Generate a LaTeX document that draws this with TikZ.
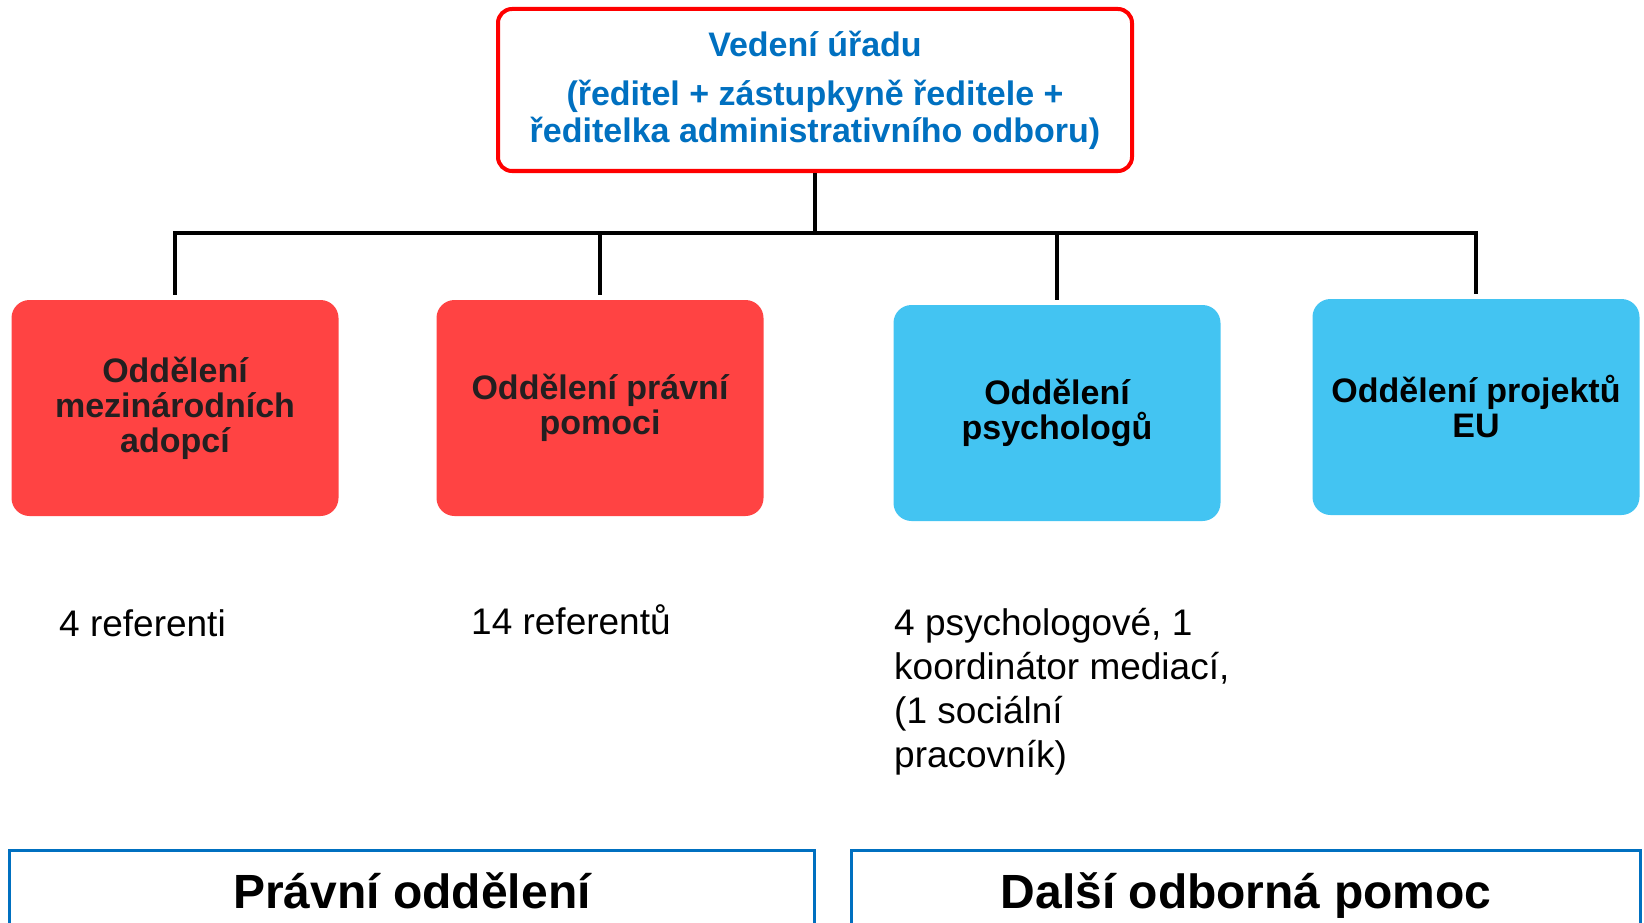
\documentclass[tikz,border=0pt]{standalone}
\usepackage{fontspec}
\setmainfont{Liberation Sans}
\usetikzlibrary{positioning}

\definecolor{leadred}{HTML}{FF0000}
\definecolor{leadblue}{HTML}{0070C0}
\definecolor{deptred}{HTML}{FF4343}
\definecolor{deptblue}{HTML}{43C4F2}
\definecolor{deptink}{HTML}{231F20}

\begin{document}
\begin{tikzpicture}[
    x=1pt, y=-1pt, %one unit per pixel, y downwards
    inner sep=0pt,
    lead/.style={draw=leadred, line width=4pt, rounded corners=14pt,
        fill=white, minimum width=634pt, minimum height=162pt,
        align=center, text=leadblue,
        font=\fontsize{34}{37}\selectfont\bfseries},
    rdept/.style={fill=deptred, rounded corners=18pt,
        minimum width=327pt, minimum height=216pt,
        align=center, text=deptink,
        font=\fontsize{34}{35}\selectfont\bfseries},
    bdept/.style={rdept, fill=deptblue, text=black},
    staff/.style={anchor=north west, align=left,
        font=\fontsize{37}{44}\selectfont},
    team/.style={draw=leadblue, line width=3pt, minimum height=92pt,
        text height=34pt, text depth=10pt,
        font=\fontsize{48}{52}\selectfont\bfseries},
    conn/.style={line width=4pt},
    ]

    \clip (0,0) rectangle (1644,923);

    %management
    \node[lead] (vedeni) at (815,90)
        {Vedení úřadu\\[12pt](ředitel + zástupkyně ředitele +\\ředitelka administrativního odboru)};

    %departments
    \node[rdept] (adopce) at (175,408) {Oddělení\\mezinárodních\\adopcí};
    \node[rdept] (pravni) at (600,408) {Oddělení právní\\pomoci};
    \node[bdept] (psycho) at (1057,413) {Oddělení\\psychologů};
    \node[bdept] (projekty) at (1476,407) {Oddělení projektů\\EU};

    %lines
    \coordinate (bus) at (815,233);
    \draw[conn] (vedeni.south) -- (bus);
    \draw[conn, shorten <=5pt] (adopce.north) |- (bus);
    \draw[conn, shorten <=5pt] (pravni.north) |- (bus);
    \draw[conn, shorten <=5pt] (psycho.north) |- (bus);
    \draw[conn, shorten <=5pt] (projekty.north) |- (bus);

    %staff
    \node[staff] (sadopce) at (59,609) {4 referenti};
    \node[staff] (spravni) at (471,604) {14 referentů};
    \node[staff] (spsycho) at (894,608)
        {4 psychologové, 1\\koordinátor mediací,\\(1 sociální\\pracovník)};

    %teams
    \node[team, minimum width=805pt] (tpravni) at (412,896) {Právní oddělení};
    \node[team, minimum width=789pt] (tdalsi) at (1246,896) {Další odborná pomoc};

\end{tikzpicture}
\end{document}
